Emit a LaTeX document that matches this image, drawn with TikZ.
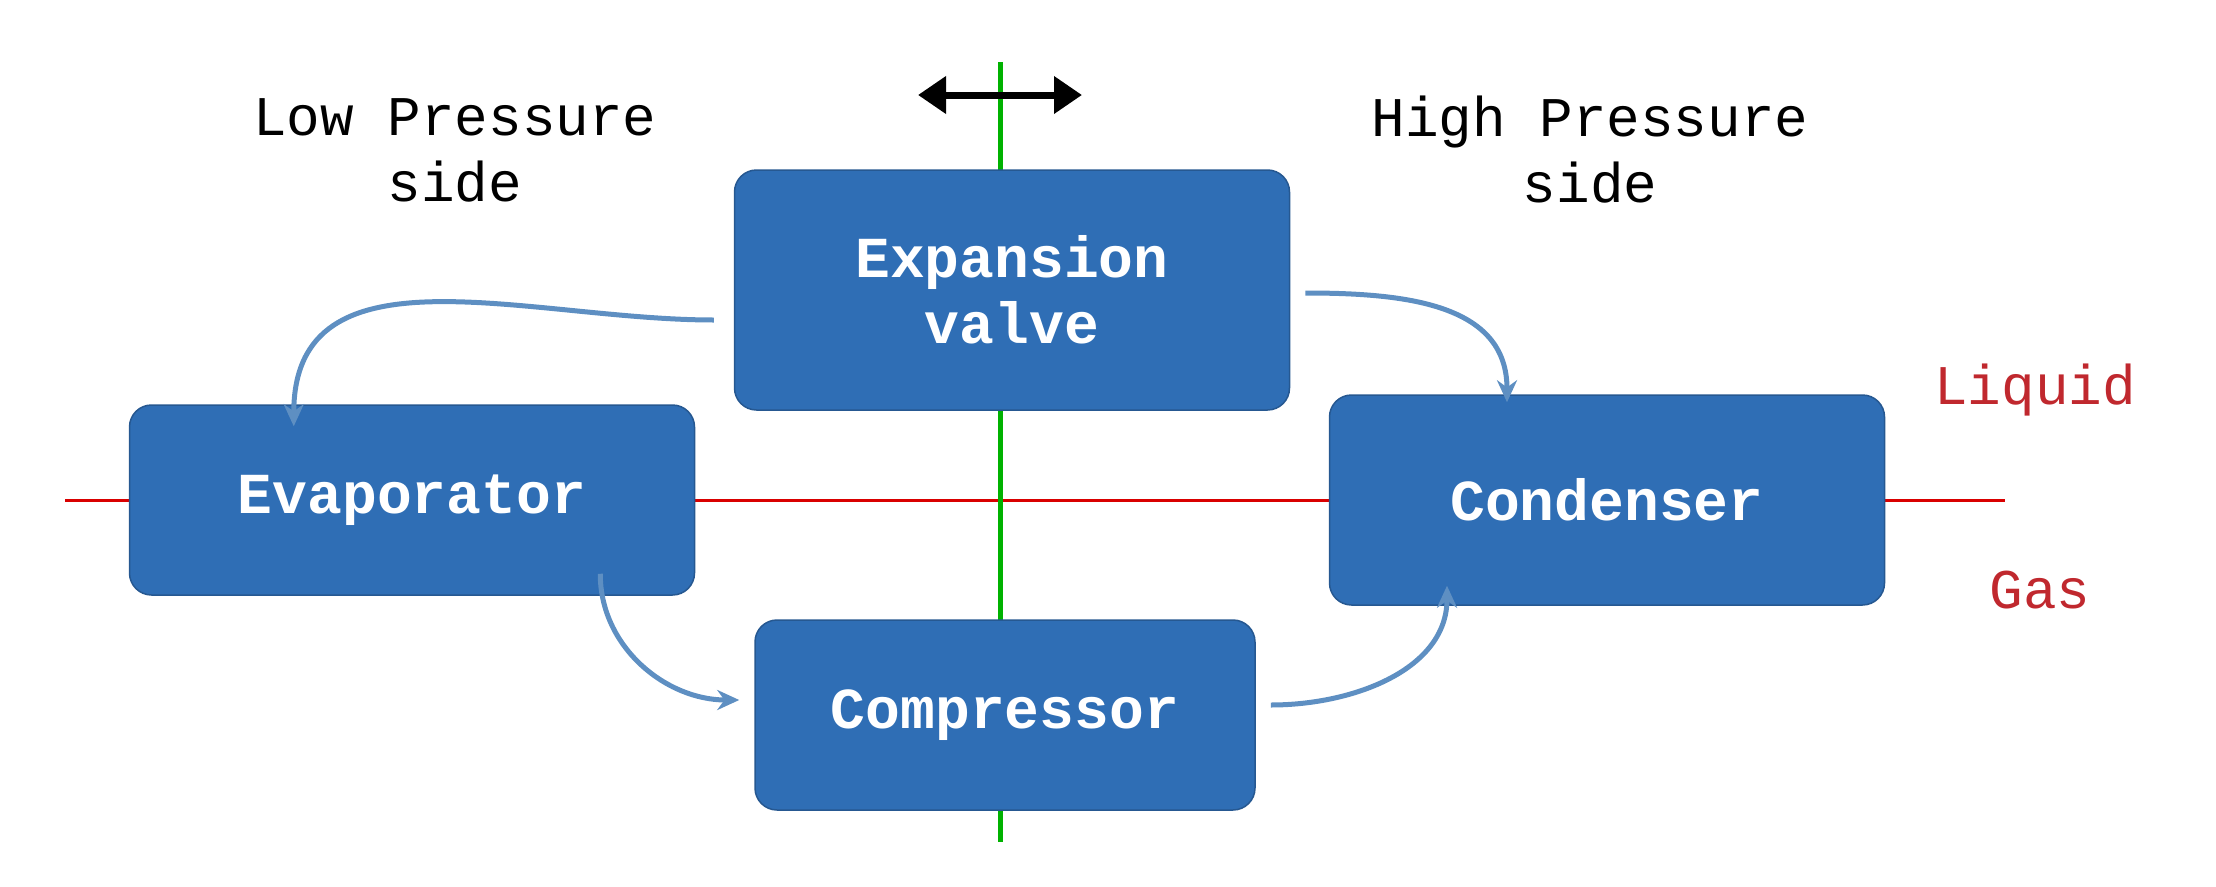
\documentclass[tikz,border=0pt]{standalone}
\usepackage{fontspec}
\setmainfont{Liberation Mono}
\usetikzlibrary{arrows.meta}
\definecolor{boxb}{HTML}{2F6EB5}
\definecolor{arr}{HTML}{5E8FC2}
\definecolor{lbl}{HTML}{C0282E}
\begin{document}
\begin{tikzpicture}[x=1pt,y=-1pt,
 box/.style={fill=boxb,draw=boxb!80!black,line width=1.5pt,rounded corners=22pt,text=white,font=\fontsize{58}{66}\selectfont\bfseries,align=center,inner sep=0},
 lab/.style={font=\fontsize{56}{66}\selectfont,align=center},
 cyc/.style={arr,line width=5pt,-{Stealth[length=22pt,width=20pt]}}]
\useasboundingbox (0,0) rectangle (2216,886);
\coordinate (r1) at (65,500); \coordinate (r2) at (2005,500);
\coordinate (g1) at (1000,62); \coordinate (g2) at (1000,842);
\draw[red!85!black,line width=3pt] (r1) -- (r2);
\draw[green!70!black,line width=5pt] (g1) -- (g2);
\coordinate (a1) at (918,95); \coordinate (a2) at (1082,95);
\draw[line width=7pt,{Triangle[length=28pt,width=36pt]}-{Triangle[length=28pt,width=36pt]}] (a1) -- (a2);
\node[box,minimum width=555pt,minimum height=240pt] (ev) at (1012,290) {Expansion\\valve};
\node[box,minimum width=565pt,minimum height=190pt] (evap) at (412,500) {Evaporator};
\node[box,minimum width=555pt,minimum height=210pt] (cond) at (1607,500) {Condenser};
\node[box,minimum width=500pt,minimum height=190pt] (comp) at (1005,715) {Compressor};
\node[lab] (lp) at (455,150) {Low Pressure\\side};
\node[lab] (hp) at (1590,150) {High Pressure\\side};
\node[lab,text=lbl] (liq) at (2035,390) {Liquid};
\node[lab,text=lbl] (gas) at (2040,590) {Gas};
\draw[cyc] ([xshift=-20pt,yshift=-30pt]ev.west) to[out=180,in=90,looseness=1.1] ([xshift=165pt,yshift=-22pt]evap.north west);
\draw[cyc] ([xshift=15pt,yshift=-8pt]ev.north east |- 0,285) to[out=0,in=90,looseness=1.1] ([xshift=-100pt,yshift=-8pt]cond.north);
\draw[cyc] ([xshift=-95pt,yshift=22pt]evap.south east) to[out=-90,in=180,looseness=1.0] ([xshift=-15pt,yshift=15pt]comp.west);
\draw[cyc] ([xshift=15pt,yshift=10pt]comp.east) to[out=0,in=-90,looseness=1.0] ([xshift=-160pt,yshift=20pt]cond.south);
\end{tikzpicture}
\end{document}
